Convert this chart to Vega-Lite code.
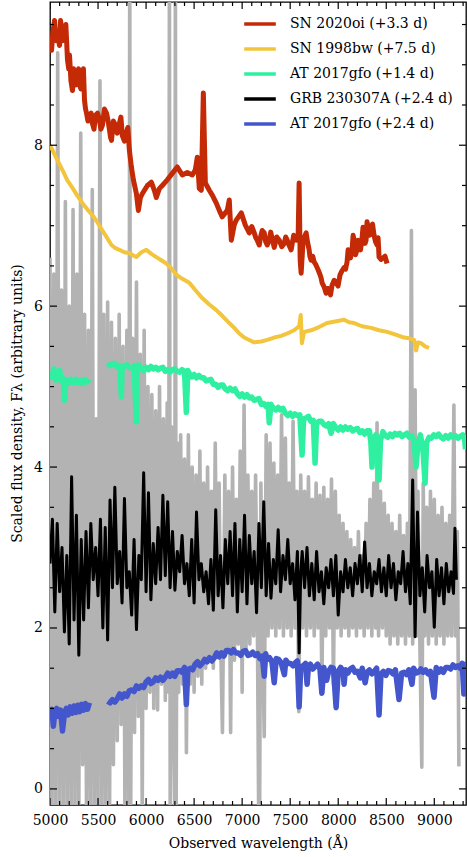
{
"$schema":"https://vega.github.io/schema/vega-lite/v6.json",
"width":416,"height":803,"autosize":{"type":"none"},
"padding":{"left":50,"top":2,"right":1,"bottom":52},
"background":"white",
"config":{"view":{"stroke":"black","strokeWidth":1.3},
 "line":{"strokeJoin":"round","strokeCap":"butt"},
 "tick":{"color":"black","thickness":1.2,"opacity":1},
 "axis":{"domain":false,"ticks":false,"grid":false,"labelFont":"DejaVu Serif","labelFontSize":14,"labelColor":"black","titleFont":"DejaVu Serif","titleFontSize":14,"titleFontWeight":"normal","titleColor":"black","format":"d"}},
"datasets":{
"xmaj":[{"v":5000},{"v":5500},{"v":6000},{"v":6500},{"v":7000},{"v":7500},{"v":8000},{"v":8500},{"v":9000}],
"xmin":[{"v":5100},{"v":5200},{"v":5300},{"v":5400},{"v":5600},{"v":5700},{"v":5800},{"v":5900},{"v":6100},{"v":6200},{"v":6300},{"v":6400},{"v":6600},{"v":6700},{"v":6800},{"v":6900},{"v":7100},{"v":7200},{"v":7300},{"v":7400},{"v":7600},{"v":7700},{"v":7800},{"v":7900},{"v":8100},{"v":8200},{"v":8300},{"v":8400},{"v":8600},{"v":8700},{"v":8800},{"v":8900},{"v":9100},{"v":9200},{"v":9300}],
"ymaj":[{"v":0},{"v":2},{"v":4},{"v":6},{"v":8}],
"ymin":[{"v":0.5},{"v":1},{"v":1.5},{"v":2.5},{"v":3},{"v":3.5},{"v":4.5},{"v":5},{"v":5.5},{"v":6.5},{"v":7},{"v":7.5},{"v":8.5},{"v":9},{"v":9.5}],
"gray":[{"x":5000,"y":6.6},{"x":5020,"y":-0.3},{"x":5040,"y":6.4},{"x":5060,"y":-0.3},{"x":5080,"y":9.15},{"x":5100,"y":-0.3},{"x":5120,"y":6.2},{"x":5140,"y":-0.3},{"x":5160,"y":7.3},{"x":5180,"y":-0.3},{"x":5200,"y":6.0},{"x":5220,"y":-0.3},{"x":5240,"y":7.2},{"x":5260,"y":-0.3},{"x":5280,"y":6.4},{"x":5300,"y":-0.3},{"x":5320,"y":8.15},{"x":5340,"y":0.3},{"x":5360,"y":5.9},{"x":5380,"y":-0.3},{"x":5400,"y":5.7},{"x":5420,"y":-0.3},{"x":5440,"y":7.45},{"x":5460,"y":-0.3},{"x":5480,"y":4.6},{"x":5500,"y":-0.3},{"x":5520,"y":8.8},{"x":5540,"y":-0.3},{"x":5560,"y":5.9},{"x":5580,"y":-0.3},{"x":5600,"y":6.05},{"x":5620,"y":-0.3},{"x":5640,"y":5.8},{"x":5660,"y":0.3},{"x":5680,"y":5.6},{"x":5700,"y":0.6},{"x":5720,"y":5.9},{"x":5740,"y":0.8},{"x":5760,"y":5.5},{"x":5780,"y":-0.3},{"x":5800,"y":5.7},{"x":5820,"y":-0.3},{"x":5830,"y":10.5},{"x":5840,"y":-0.3},{"x":5860,"y":5.6},{"x":5880,"y":0.7},{"x":5900,"y":6.3},{"x":5920,"y":0.9},{"x":5940,"y":5.4},{"x":5960,"y":-0.3},{"x":5980,"y":5.7},{"x":6000,"y":1.0},{"x":6020,"y":5.0},{"x":6040,"y":1.2},{"x":6060,"y":4.9},{"x":6080,"y":1.0},{"x":6100,"y":4.7},{"x":6120,"y":0.98},{"x":6140,"y":5.0},{"x":6160,"y":1.3},{"x":6180,"y":4.6},{"x":6200,"y":1.1},{"x":6220,"y":4.8},{"x":6235,"y":1.2},{"x":6243,"y":10.5},{"x":6251,"y":-0.3},{"x":6265,"y":4.5},{"x":6280,"y":1.3},{"x":6298,"y":-0.3},{"x":6305,"y":10.5},{"x":6313,"y":-0.3},{"x":6325,"y":4.3},{"x":6340,"y":1.2},{"x":6360,"y":4.4},{"x":6380,"y":1.3},{"x":6400,"y":4.1},{"x":6420,"y":0.45},{"x":6440,"y":4.4},{"x":6460,"y":1.3},{"x":6480,"y":4.0},{"x":6500,"y":1.2},{"x":6520,"y":3.9},{"x":6540,"y":1.4},{"x":6560,"y":4.2},{"x":6580,"y":1.3},{"x":6600,"y":3.8},{"x":6620,"y":1.5},{"x":6640,"y":4.0},{"x":6660,"y":1.6},{"x":6680,"y":3.7},{"x":6700,"y":1.5},{"x":6720,"y":4.3},{"x":6740,"y":1.7},{"x":6760,"y":3.8},{"x":6780,"y":1.6},{"x":6795,"y":0.7},{"x":6820,"y":3.9},{"x":6840,"y":1.7},{"x":6860,"y":3.7},{"x":6880,"y":0.7},{"x":6900,"y":4.0},{"x":6920,"y":1.6},{"x":6940,"y":3.6},{"x":6960,"y":1.8},{"x":6980,"y":4.2},{"x":7000,"y":1.2},{"x":7020,"y":4.77},{"x":7040,"y":1.7},{"x":7060,"y":3.9},{"x":7080,"y":1.8},{"x":7100,"y":3.7},{"x":7120,"y":1.9},{"x":7140,"y":3.9},{"x":7160,"y":1.8},{"x":7172,"y":-0.3},{"x":7182,"y":-0.3},{"x":7195,"y":3.8},{"x":7210,"y":2.0},{"x":7230,"y":0.65},{"x":7250,"y":4.4},{"x":7270,"y":1.9},{"x":7290,"y":4.3},{"x":7310,"y":2.0},{"x":7330,"y":4.05},{"x":7350,"y":1.9},{"x":7370,"y":3.9},{"x":7390,"y":2.0},{"x":7410,"y":4.65},{"x":7430,"y":1.9},{"x":7450,"y":4.36},{"x":7470,"y":2.0},{"x":7490,"y":3.8},{"x":7510,"y":1.9},{"x":7530,"y":4.57},{"x":7550,"y":2.0},{"x":7570,"y":3.7},{"x":7590,"y":0.96},{"x":7610,"y":3.9},{"x":7630,"y":2.0},{"x":7650,"y":3.7},{"x":7670,"y":1.9},{"x":7690,"y":3.88},{"x":7710,"y":2.0},{"x":7730,"y":3.6},{"x":7750,"y":1.9},{"x":7770,"y":3.8},{"x":7790,"y":2.0},{"x":7810,"y":3.65},{"x":7830,"y":1.23},{"x":7850,"y":3.75},{"x":7870,"y":1.9},{"x":7890,"y":3.6},{"x":7910,"y":2.0},{"x":7930,"y":3.85},{"x":7950,"y":1.3},{"x":7970,"y":3.7},{"x":7990,"y":2.0},{"x":8010,"y":3.4},{"x":8030,"y":1.9},{"x":8050,"y":3.3},{"x":8070,"y":2.0},{"x":8090,"y":3.2},{"x":8110,"y":1.9},{"x":8130,"y":3.1},{"x":8150,"y":2.0},{"x":8170,"y":3.0},{"x":8190,"y":1.9},{"x":8210,"y":3.2},{"x":8230,"y":2.0},{"x":8250,"y":2.9},{"x":8270,"y":1.9},{"x":8290,"y":3.3},{"x":8310,"y":2.0},{"x":8330,"y":3.6},{"x":8350,"y":1.9},{"x":8370,"y":3.8},{"x":8390,"y":2.0},{"x":8404,"y":4.55},{"x":8420,"y":1.9},{"x":8440,"y":3.7},{"x":8460,"y":2.0},{"x":8480,"y":3.55},{"x":8500,"y":1.9},{"x":8520,"y":3.4},{"x":8540,"y":1.8},{"x":8560,"y":3.3},{"x":8580,"y":1.9},{"x":8600,"y":3.2},{"x":8620,"y":1.8},{"x":8640,"y":3.4},{"x":8660,"y":1.9},{"x":8680,"y":3.15},{"x":8700,"y":1.8},{"x":8720,"y":3.3},{"x":8740,"y":1.9},{"x":8762,"y":6.94},{"x":8775,"y":1.8},{"x":8790,"y":3.6},{"x":8800,"y":4.96},{"x":8815,"y":1.9},{"x":8830,"y":3.7},{"x":8850,"y":1.8},{"x":8870,"y":0.27},{"x":8885,"y":3.8},{"x":8900,"y":1.9},{"x":8920,"y":3.5},{"x":8940,"y":1.8},{"x":8960,"y":3.7},{"x":8980,"y":1.9},{"x":9000,"y":3.6},{"x":9020,"y":1.8},{"x":9040,"y":3.4},{"x":9060,"y":1.9},{"x":9080,"y":3.5},{"x":9100,"y":1.8},{"x":9120,"y":3.3},{"x":9140,"y":1.9},{"x":9160,"y":3.4},{"x":9180,"y":1.9},{"x":9204,"y":4.77},{"x":9220,"y":1.9},{"x":9240,"y":3.2},{"x":9256,"y":0.28}],
"red":[{"x":5000,"y":9.25},{"x":5016,"y":9.18},{"x":5030,"y":9.40},{"x":5047,"y":9.55},{"x":5063,"y":9.30},{"x":5078,"y":9.37},{"x":5099,"y":9.24},{"x":5110,"y":9.55},{"x":5120,"y":9.45},{"x":5135,"y":9.30},{"x":5151,"y":9.43},{"x":5165,"y":9.50},{"x":5182,"y":9.06},{"x":5195,"y":8.95},{"x":5203,"y":9.12},{"x":5218,"y":8.80},{"x":5234,"y":8.68},{"x":5245,"y":8.95},{"x":5255,"y":8.81},{"x":5270,"y":8.75},{"x":5286,"y":8.91},{"x":5297,"y":8.95},{"x":5307,"y":8.75},{"x":5322,"y":8.70},{"x":5338,"y":8.84},{"x":5348,"y":8.95},{"x":5359,"y":8.56},{"x":5370,"y":8.45},{"x":5380,"y":8.40},{"x":5395,"y":8.30},{"x":5411,"y":8.34},{"x":5428,"y":8.40},{"x":5442,"y":8.27},{"x":5458,"y":8.20},{"x":5473,"y":8.37},{"x":5495,"y":8.40},{"x":5515,"y":8.31},{"x":5530,"y":8.20},{"x":5546,"y":8.25},{"x":5567,"y":8.45},{"x":5588,"y":8.40},{"x":5605,"y":8.30},{"x":5619,"y":8.19},{"x":5630,"y":8.10},{"x":5640,"y":8.06},{"x":5660,"y":8.30},{"x":5681,"y":8.25},{"x":5700,"y":8.15},{"x":5722,"y":8.27},{"x":5738,"y":8.35},{"x":5753,"y":8.12},{"x":5775,"y":8.05},{"x":5795,"y":8.15},{"x":5810,"y":8.22},{"x":5826,"y":7.94},{"x":5847,"y":7.73},{"x":5868,"y":7.57},{"x":5899,"y":7.40},{"x":5920,"y":7.19},{"x":5941,"y":7.35},{"x":5962,"y":7.40},{"x":6014,"y":7.50},{"x":6055,"y":7.54},{"x":6086,"y":7.44},{"x":6107,"y":7.35},{"x":6138,"y":7.46},{"x":6169,"y":7.50},{"x":6221,"y":7.57},{"x":6273,"y":7.65},{"x":6325,"y":7.73},{"x":6377,"y":7.63},{"x":6429,"y":7.66},{"x":6481,"y":7.63},{"x":6512,"y":7.69},{"x":6533,"y":7.85},{"x":6554,"y":7.46},{"x":6575,"y":7.44},{"x":6596,"y":8.65},{"x":6617,"y":7.53},{"x":6658,"y":7.44},{"x":6689,"y":7.38},{"x":6731,"y":7.28},{"x":6762,"y":7.19},{"x":6793,"y":7.11},{"x":6845,"y":7.19},{"x":6866,"y":7.32},{"x":6887,"y":6.82},{"x":6918,"y":7.01},{"x":6939,"y":7.07},{"x":6991,"y":7.16},{"x":7032,"y":7.01},{"x":7074,"y":6.91},{"x":7100,"y":6.99},{"x":7126,"y":6.91},{"x":7142,"y":6.85},{"x":7157,"y":6.82},{"x":7178,"y":6.76},{"x":7195,"y":6.88},{"x":7209,"y":6.94},{"x":7230,"y":6.91},{"x":7245,"y":6.80},{"x":7261,"y":6.76},{"x":7282,"y":6.82},{"x":7297,"y":6.92},{"x":7313,"y":6.84},{"x":7334,"y":6.73},{"x":7360,"y":6.86},{"x":7386,"y":6.82},{"x":7412,"y":6.74},{"x":7438,"y":6.78},{"x":7453,"y":6.86},{"x":7469,"y":6.82},{"x":7490,"y":6.75},{"x":7510,"y":6.70},{"x":7536,"y":6.88},{"x":7562,"y":6.82},{"x":7583,"y":6.88},{"x":7593,"y":7.53},{"x":7604,"y":6.57},{"x":7614,"y":6.41},{"x":7635,"y":6.82},{"x":7666,"y":6.91},{"x":7680,"y":6.80},{"x":7697,"y":6.70},{"x":7705,"y":6.62},{"x":7718,"y":6.57},{"x":7735,"y":6.62},{"x":7749,"y":6.55},{"x":7765,"y":6.52},{"x":7780,"y":6.48},{"x":7795,"y":6.44},{"x":7811,"y":6.39},{"x":7822,"y":6.35},{"x":7832,"y":6.29},{"x":7853,"y":6.24},{"x":7874,"y":6.16},{"x":7890,"y":6.22},{"x":7905,"y":6.20},{"x":7920,"y":6.14},{"x":7936,"y":6.26},{"x":7957,"y":6.32},{"x":7978,"y":6.29},{"x":7998,"y":6.25},{"x":8019,"y":6.39},{"x":8040,"y":6.44},{"x":8061,"y":6.48},{"x":8077,"y":6.46},{"x":8092,"y":6.55},{"x":8103,"y":6.70},{"x":8113,"y":6.63},{"x":8128,"y":6.60},{"x":8144,"y":6.70},{"x":8155,"y":6.88},{"x":8165,"y":6.82},{"x":8180,"y":6.64},{"x":8196,"y":6.70},{"x":8206,"y":6.82},{"x":8217,"y":6.76},{"x":8232,"y":6.70},{"x":8248,"y":6.84},{"x":8258,"y":6.98},{"x":8269,"y":6.91},{"x":8280,"y":6.78},{"x":8290,"y":6.82},{"x":8300,"y":7.05},{"x":8311,"y":6.97},{"x":8326,"y":6.88},{"x":8342,"y":6.98},{"x":8357,"y":7.02},{"x":8373,"y":6.88},{"x":8388,"y":6.80},{"x":8404,"y":6.76},{"x":8415,"y":6.85},{"x":8425,"y":6.61},{"x":8445,"y":6.58},{"x":8466,"y":6.60},{"x":8487,"y":6.62},{"x":8508,"y":6.53}],
"yellow":[{"x":5000,"y":8.00},{"x":5026,"y":7.94},{"x":5078,"y":7.81},{"x":5130,"y":7.69},{"x":5182,"y":7.56},{"x":5234,"y":7.47},{"x":5286,"y":7.37},{"x":5338,"y":7.28},{"x":5390,"y":7.20},{"x":5442,"y":7.13},{"x":5494,"y":7.04},{"x":5546,"y":6.94},{"x":5598,"y":6.84},{"x":5640,"y":6.76},{"x":5681,"y":6.72},{"x":5722,"y":6.70},{"x":5774,"y":6.67},{"x":5826,"y":6.66},{"x":5868,"y":6.63},{"x":5899,"y":6.61},{"x":5951,"y":6.67},{"x":6003,"y":6.70},{"x":6055,"y":6.65},{"x":6107,"y":6.61},{"x":6159,"y":6.57},{"x":6211,"y":6.53},{"x":6263,"y":6.47},{"x":6315,"y":6.39},{"x":6377,"y":6.34},{"x":6450,"y":6.29},{"x":6512,"y":6.20},{"x":6585,"y":6.10},{"x":6658,"y":6.02},{"x":6731,"y":5.95},{"x":6793,"y":5.88},{"x":6866,"y":5.79},{"x":6918,"y":5.73},{"x":6970,"y":5.66},{"x":7022,"y":5.61},{"x":7074,"y":5.58},{"x":7126,"y":5.55},{"x":7199,"y":5.56},{"x":7261,"y":5.58},{"x":7334,"y":5.61},{"x":7407,"y":5.63},{"x":7469,"y":5.66},{"x":7541,"y":5.70},{"x":7593,"y":5.75},{"x":7610,"y":5.89},{"x":7622,"y":5.54},{"x":7645,"y":5.68},{"x":7718,"y":5.70},{"x":7801,"y":5.74},{"x":7884,"y":5.79},{"x":7967,"y":5.81},{"x":8061,"y":5.83},{"x":8113,"y":5.80},{"x":8165,"y":5.79},{"x":8248,"y":5.75},{"x":8342,"y":5.73},{"x":8425,"y":5.70},{"x":8508,"y":5.68},{"x":8591,"y":5.65},{"x":8685,"y":5.61},{"x":8737,"y":5.60},{"x":8789,"y":5.58},{"x":8810,"y":5.45},{"x":8831,"y":5.55},{"x":8862,"y":5.54},{"x":8904,"y":5.50},{"x":8945,"y":5.48}],
"green1":[{"x":5000,"y":5.17},{"x":5020,"y":5.12},{"x":5040,"y":5.22},{"x":5060,"y":5.08},{"x":5080,"y":5.12},{"x":5100,"y":5.20},{"x":5120,"y":5.06},{"x":5140,"y":5.10},{"x":5151,"y":4.83},{"x":5165,"y":5.08},{"x":5190,"y":5.04},{"x":5215,"y":5.09},{"x":5240,"y":5.05},{"x":5265,"y":5.09},{"x":5290,"y":5.05},{"x":5315,"y":5.08},{"x":5340,"y":5.04},{"x":5365,"y":5.09},{"x":5390,"y":5.06},{"x":5410,"y":5.09}],
"green2":[{"x":5600,"y":5.29},{"x":5625,"y":5.26},{"x":5650,"y":5.28},{"x":5675,"y":5.29},{"x":5700,"y":5.24},{"x":5725,"y":5.26},{"x":5743,"y":4.87},{"x":5750,"y":5.23},{"x":5775,"y":5.26},{"x":5800,"y":5.27},{"x":5825,"y":5.24},{"x":5850,"y":5.23},{"x":5875,"y":5.26},{"x":5899,"y":4.56},{"x":5910,"y":5.24},{"x":5925,"y":5.27},{"x":5950,"y":5.23},{"x":5975,"y":5.20},{"x":6000,"y":5.24},{"x":6025,"y":5.21},{"x":6050,"y":5.25},{"x":6075,"y":5.22},{"x":6100,"y":5.24},{"x":6125,"y":5.21},{"x":6150,"y":5.23},{"x":6175,"y":5.24},{"x":6200,"y":5.19},{"x":6225,"y":5.21},{"x":6250,"y":5.18},{"x":6275,"y":5.21},{"x":6300,"y":5.22},{"x":6325,"y":5.19},{"x":6350,"y":5.18},{"x":6375,"y":5.21},{"x":6400,"y":5.19},{"x":6419,"y":4.68},{"x":6435,"y":5.20},{"x":6450,"y":5.16},{"x":6475,"y":5.12},{"x":6500,"y":5.15},{"x":6525,"y":5.11},{"x":6550,"y":5.14},{"x":6575,"y":5.11},{"x":6600,"y":5.11},{"x":6625,"y":5.07},{"x":6650,"y":5.08},{"x":6675,"y":5.09},{"x":6700,"y":5.03},{"x":6725,"y":5.03},{"x":6750,"y":4.99},{"x":6775,"y":5.02},{"x":6800,"y":5.02},{"x":6825,"y":4.97},{"x":6850,"y":4.95},{"x":6875,"y":4.98},{"x":6900,"y":4.95},{"x":6925,"y":4.97},{"x":6950,"y":4.91},{"x":6975,"y":4.88},{"x":7000,"y":4.91},{"x":7025,"y":4.87},{"x":7050,"y":4.90},{"x":7075,"y":4.86},{"x":7100,"y":4.87},{"x":7125,"y":4.83},{"x":7150,"y":4.84},{"x":7175,"y":4.85},{"x":7200,"y":4.78},{"x":7225,"y":4.79},{"x":7250,"y":4.75},{"x":7270,"y":4.78},{"x":7282,"y":4.55},{"x":7300,"y":4.78},{"x":7325,"y":4.73},{"x":7350,"y":4.71},{"x":7375,"y":4.74},{"x":7400,"y":4.71},{"x":7425,"y":4.73},{"x":7450,"y":4.67},{"x":7475,"y":4.64},{"x":7500,"y":4.67},{"x":7525,"y":4.63},{"x":7550,"y":4.66},{"x":7575,"y":4.64},{"x":7600,"y":4.65},{"x":7624,"y":4.15},{"x":7640,"y":4.60},{"x":7665,"y":4.61},{"x":7690,"y":4.63},{"x":7715,"y":4.57},{"x":7740,"y":4.58},{"x":7759,"y":4.05},{"x":7775,"y":4.54},{"x":7800,"y":4.57},{"x":7825,"y":4.57},{"x":7850,"y":4.53},{"x":7875,"y":4.51},{"x":7900,"y":4.54},{"x":7926,"y":4.42},{"x":7950,"y":4.54},{"x":7975,"y":4.49},{"x":8000,"y":4.46},{"x":8025,"y":4.50},{"x":8050,"y":4.46},{"x":8075,"y":4.50},{"x":8100,"y":4.47},{"x":8125,"y":4.49},{"x":8150,"y":4.45},{"x":8175,"y":4.47},{"x":8200,"y":4.48},{"x":8225,"y":4.43},{"x":8250,"y":4.45},{"x":8275,"y":4.41},{"x":8300,"y":4.45},{"x":8325,"y":4.45},{"x":8340,"y":4.30},{"x":8352,"y":4.00},{"x":8365,"y":4.32},{"x":8390,"y":4.40},{"x":8410,"y":4.28},{"x":8425,"y":3.84},{"x":8440,"y":4.33},{"x":8465,"y":4.44},{"x":8490,"y":4.39},{"x":8515,"y":4.37},{"x":8540,"y":4.41},{"x":8565,"y":4.38},{"x":8590,"y":4.42},{"x":8615,"y":4.40},{"x":8640,"y":4.42},{"x":8665,"y":4.38},{"x":8690,"y":4.40},{"x":8715,"y":4.42},{"x":8740,"y":4.37},{"x":8765,"y":4.39},{"x":8790,"y":4.32},{"x":8810,"y":4.00},{"x":8830,"y":4.28},{"x":8855,"y":4.40},{"x":8880,"y":4.25},{"x":8904,"y":3.80},{"x":8920,"y":4.30},{"x":8945,"y":4.37},{"x":8970,"y":4.36},{"x":8995,"y":4.40},{"x":9020,"y":4.38},{"x":9045,"y":4.41},{"x":9070,"y":4.37},{"x":9095,"y":4.35},{"x":9120,"y":4.39},{"x":9145,"y":4.36},{"x":9170,"y":4.40},{"x":9195,"y":4.37},{"x":9220,"y":4.39},{"x":9245,"y":4.36},{"x":9270,"y":4.38},{"x":9295,"y":4.40},{"x":9315,"y":4.35},{"x":9325,"y":4.22}],
"black":[{"x":5000,"y":2.80},{"x":5025,"y":3.35},{"x":5050,"y":2.20},{"x":5075,"y":3.30},{"x":5100,"y":2.45},{"x":5125,"y":3.00},{"x":5150,"y":1.95},{"x":5175,"y":2.90},{"x":5200,"y":1.80},{"x":5225,"y":3.88},{"x":5250,"y":2.10},{"x":5275,"y":3.40},{"x":5300,"y":1.66},{"x":5325,"y":3.10},{"x":5350,"y":2.10},{"x":5375,"y":3.20},{"x":5400,"y":2.25},{"x":5425,"y":3.30},{"x":5450,"y":2.60},{"x":5475,"y":3.00},{"x":5500,"y":2.40},{"x":5525,"y":3.35},{"x":5550,"y":2.00},{"x":5575,"y":3.25},{"x":5600,"y":1.85},{"x":5625,"y":3.59},{"x":5650,"y":2.50},{"x":5675,"y":3.75},{"x":5700,"y":2.55},{"x":5725,"y":2.95},{"x":5750,"y":2.31},{"x":5775,"y":3.61},{"x":5800,"y":2.50},{"x":5825,"y":2.70},{"x":5850,"y":2.16},{"x":5875,"y":3.10},{"x":5900,"y":1.98},{"x":5925,"y":2.90},{"x":5950,"y":2.60},{"x":5975,"y":3.93},{"x":6000,"y":2.45},{"x":6025,"y":3.68},{"x":6050,"y":2.35},{"x":6075,"y":3.05},{"x":6100,"y":2.55},{"x":6125,"y":3.25},{"x":6150,"y":2.60},{"x":6175,"y":3.65},{"x":6200,"y":2.65},{"x":6225,"y":3.57},{"x":6250,"y":2.50},{"x":6275,"y":3.20},{"x":6300,"y":2.47},{"x":6325,"y":2.95},{"x":6350,"y":2.70},{"x":6375,"y":3.15},{"x":6400,"y":2.55},{"x":6425,"y":2.80},{"x":6450,"y":2.40},{"x":6475,"y":3.10},{"x":6500,"y":2.31},{"x":6525,"y":3.44},{"x":6550,"y":2.60},{"x":6575,"y":2.80},{"x":6600,"y":2.45},{"x":6625,"y":2.70},{"x":6650,"y":2.30},{"x":6675,"y":2.85},{"x":6700,"y":2.22},{"x":6725,"y":3.47},{"x":6750,"y":2.40},{"x":6775,"y":2.90},{"x":6800,"y":2.25},{"x":6825,"y":3.10},{"x":6850,"y":2.55},{"x":6875,"y":3.20},{"x":6900,"y":2.40},{"x":6925,"y":3.30},{"x":6950,"y":2.20},{"x":6975,"y":3.10},{"x":7000,"y":2.45},{"x":7025,"y":3.40},{"x":7050,"y":2.30},{"x":7075,"y":3.15},{"x":7100,"y":2.55},{"x":7125,"y":2.95},{"x":7150,"y":2.19},{"x":7175,"y":3.30},{"x":7200,"y":2.50},{"x":7225,"y":3.57},{"x":7250,"y":2.40},{"x":7275,"y":3.05},{"x":7300,"y":2.37},{"x":7325,"y":2.85},{"x":7350,"y":2.55},{"x":7375,"y":3.22},{"x":7400,"y":2.45},{"x":7425,"y":2.90},{"x":7450,"y":2.60},{"x":7475,"y":3.10},{"x":7500,"y":2.55},{"x":7525,"y":2.80},{"x":7550,"y":2.35},{"x":7575,"y":2.95},{"x":7593,"y":1.69},{"x":7610,"y":2.70},{"x":7625,"y":2.95},{"x":7650,"y":2.50},{"x":7675,"y":3.00},{"x":7700,"y":2.40},{"x":7725,"y":2.80},{"x":7750,"y":2.35},{"x":7775,"y":2.95},{"x":7800,"y":2.45},{"x":7825,"y":2.70},{"x":7850,"y":2.30},{"x":7875,"y":2.75},{"x":7900,"y":2.50},{"x":7925,"y":2.85},{"x":7950,"y":2.40},{"x":7975,"y":2.90},{"x":8000,"y":2.16},{"x":8025,"y":2.70},{"x":8050,"y":2.45},{"x":8075,"y":2.85},{"x":8100,"y":2.50},{"x":8125,"y":2.75},{"x":8150,"y":2.40},{"x":8175,"y":2.80},{"x":8200,"y":2.55},{"x":8225,"y":2.90},{"x":8250,"y":2.45},{"x":8275,"y":3.07},{"x":8300,"y":2.50},{"x":8325,"y":2.80},{"x":8350,"y":2.40},{"x":8375,"y":2.70},{"x":8400,"y":2.55},{"x":8425,"y":2.85},{"x":8450,"y":2.45},{"x":8475,"y":2.75},{"x":8500,"y":2.40},{"x":8525,"y":2.90},{"x":8550,"y":2.50},{"x":8575,"y":2.80},{"x":8600,"y":2.35},{"x":8625,"y":2.70},{"x":8650,"y":2.55},{"x":8675,"y":2.95},{"x":8700,"y":2.45},{"x":8725,"y":2.80},{"x":8750,"y":2.30},{"x":8775,"y":3.84},{"x":8800,"y":1.89},{"x":8825,"y":3.44},{"x":8850,"y":2.40},{"x":8875,"y":2.75},{"x":8900,"y":2.20},{"x":8925,"y":2.90},{"x":8950,"y":2.50},{"x":8975,"y":2.70},{"x":9000,"y":2.01},{"x":9025,"y":2.85},{"x":9050,"y":2.40},{"x":9075,"y":2.75},{"x":9100,"y":2.30},{"x":9125,"y":2.80},{"x":9150,"y":2.45},{"x":9175,"y":2.70},{"x":9200,"y":2.43},{"x":9215,"y":3.24},{"x":9230,"y":2.60}],
"blue1":[{"x":5000,"y":0.93},{"x":5020,"y":0.99},{"x":5035,"y":0.78},{"x":5050,"y":0.95},{"x":5070,"y":1.00},{"x":5090,"y":0.90},{"x":5110,"y":0.98},{"x":5130,"y":0.72},{"x":5150,"y":0.93},{"x":5170,"y":1.00},{"x":5190,"y":0.92},{"x":5210,"y":1.02},{"x":5230,"y":0.94},{"x":5250,"y":1.03},{"x":5270,"y":0.95},{"x":5290,"y":1.04},{"x":5310,"y":0.96},{"x":5330,"y":1.05},{"x":5350,"y":0.98},{"x":5370,"y":1.06},{"x":5390,"y":0.99},{"x":5410,"y":1.07}],
"blue2":[{"x":5600,"y":1.09},{"x":5625,"y":1.07},{"x":5650,"y":1.11},{"x":5675,"y":1.08},{"x":5700,"y":1.12},{"x":5725,"y":1.18},{"x":5750,"y":1.13},{"x":5775,"y":1.18},{"x":5800,"y":1.15},{"x":5825,"y":1.22},{"x":5850,"y":1.23},{"x":5875,"y":1.21},{"x":5900,"y":1.28},{"x":5925,"y":1.25},{"x":5950,"y":1.28},{"x":5975,"y":1.26},{"x":6000,"y":1.33},{"x":6025,"y":1.36},{"x":6050,"y":1.31},{"x":6075,"y":1.33},{"x":6100,"y":1.38},{"x":6125,"y":1.35},{"x":6150,"y":1.39},{"x":6175,"y":1.35},{"x":6200,"y":1.39},{"x":6225,"y":1.44},{"x":6250,"y":1.40},{"x":6275,"y":1.44},{"x":6300,"y":1.40},{"x":6325,"y":1.47},{"x":6350,"y":1.47},{"x":6375,"y":1.45},{"x":6400,"y":1.51},{"x":6419,"y":1.05},{"x":6435,"y":1.48},{"x":6460,"y":1.50},{"x":6485,"y":1.48},{"x":6510,"y":1.55},{"x":6535,"y":1.58},{"x":6560,"y":1.53},{"x":6585,"y":1.56},{"x":6610,"y":1.61},{"x":6635,"y":1.58},{"x":6660,"y":1.63},{"x":6685,"y":1.59},{"x":6710,"y":1.63},{"x":6735,"y":1.69},{"x":6760,"y":1.64},{"x":6785,"y":1.69},{"x":6810,"y":1.65},{"x":6835,"y":1.72},{"x":6860,"y":1.72},{"x":6885,"y":1.69},{"x":6910,"y":1.73},{"x":6935,"y":1.69},{"x":6960,"y":1.69},{"x":6985,"y":1.66},{"x":7010,"y":1.71},{"x":7035,"y":1.72},{"x":7060,"y":1.66},{"x":7085,"y":1.67},{"x":7110,"y":1.70},{"x":7135,"y":1.66},{"x":7160,"y":1.68},{"x":7185,"y":1.62},{"x":7210,"y":1.65},{"x":7230,"y":1.40},{"x":7245,"y":1.68},{"x":7260,"y":1.61},{"x":7285,"y":1.63},{"x":7310,"y":1.58},{"x":7334,"y":1.32},{"x":7355,"y":1.62},{"x":7380,"y":1.61},{"x":7405,"y":1.57},{"x":7440,"y":1.42},{"x":7455,"y":1.60},{"x":7480,"y":1.56},{"x":7505,"y":1.56},{"x":7530,"y":1.53},{"x":7555,"y":1.57},{"x":7575,"y":1.59},{"x":7593,"y":1.02},{"x":7610,"y":1.52},{"x":7635,"y":1.53},{"x":7660,"y":1.56},{"x":7676,"y":1.30},{"x":7690,"y":1.52},{"x":7710,"y":1.55},{"x":7735,"y":1.49},{"x":7760,"y":1.52},{"x":7785,"y":1.55},{"x":7810,"y":1.49},{"x":7830,"y":1.19},{"x":7850,"y":1.51},{"x":7880,"y":1.35},{"x":7900,"y":1.46},{"x":7925,"y":1.51},{"x":7950,"y":1.50},{"x":7978,"y":1.01},{"x":8000,"y":1.46},{"x":8025,"y":1.51},{"x":8050,"y":1.47},{"x":8061,"y":1.30},{"x":8075,"y":1.48},{"x":8100,"y":1.44},{"x":8125,"y":1.49},{"x":8150,"y":1.51},{"x":8175,"y":1.45},{"x":8200,"y":1.46},{"x":8230,"y":1.38},{"x":8250,"y":1.50},{"x":8280,"y":1.32},{"x":8300,"y":1.45},{"x":8325,"y":1.48},{"x":8350,"y":1.43},{"x":8375,"y":1.46},{"x":8400,"y":1.50},{"x":8425,"y":0.92},{"x":8445,"y":1.43},{"x":8470,"y":1.46},{"x":8495,"y":1.41},{"x":8520,"y":1.47},{"x":8545,"y":1.46},{"x":8570,"y":1.43},{"x":8595,"y":1.48},{"x":8633,"y":1.11},{"x":8660,"y":1.44},{"x":8685,"y":1.45},{"x":8710,"y":1.42},{"x":8735,"y":1.48},{"x":8768,"y":1.30},{"x":8785,"y":1.50},{"x":8810,"y":1.44},{"x":8835,"y":1.45},{"x":8860,"y":1.49},{"x":8885,"y":1.45},{"x":8910,"y":1.48},{"x":8935,"y":1.43},{"x":8960,"y":1.46},{"x":8997,"y":1.14},{"x":9020,"y":1.51},{"x":9045,"y":1.45},{"x":9070,"y":1.49},{"x":9095,"y":1.45},{"x":9120,"y":1.51},{"x":9145,"y":1.51},{"x":9170,"y":1.49},{"x":9195,"y":1.54},{"x":9220,"y":1.51},{"x":9245,"y":1.53},{"x":9270,"y":1.50},{"x":9290,"y":1.56},{"x":9308,"y":1.18},{"x":9325,"y":1.58}]
},
"layer":[
{"data":{"name":"gray"},"mark":{"type":"line","color":"#b3b3b3","strokeWidth":3.6,"clip":true},
 "encoding":{
  "x":{"field":"x","type":"quantitative","scale":{"domain":[5000,9330],"nice":false,"zero":false},
   "axis":{"orient":"bottom","values":[5000,5500,6000,6500,7000,7500,8000,8500,9000],"labelPadding":8,"title":"Observed wavelength (Å)","titleX":208,"titleY":38,"titleBaseline":"middle","labelFlush":false}},
  "y":{"field":"y","type":"quantitative","scale":{"domain":[-0.2,9.78],"nice":false,"zero":false},
   "axis":{"orient":"left","values":[0,2,4,6,8],"labelPadding":7.5,"title":"Scaled flux density, Fλ (arbitrary units)","titleX":-32.5,"titleY":401,"titleBaseline":"middle","labelFlush":false}}}},
{"data":{"name":"red"},"mark":{"type":"line","strokeWidth":5,"clip":true},
 "encoding":{
  "x":{"field":"x","type":"quantitative"},"y":{"field":"y","type":"quantitative"},
  "color":{"datum":"SN 2020oi (+3.3 d)","type":"nominal",
   "scale":{"domain":["SN 2020oi (+3.3 d)","SN 1998bw (+7.5 d)","AT 2017gfo (+1.4 d)","GRB 230307A (+2.4 d)","AT 2017gfo (+2.4 d)"],"range":["#c42a06","#f2c53d","#2ff0a0","#000000","#4456cc"]},
   "legend":{"orient":"none","legendX":192,"legendY":4,"title":null,"symbolType":"stroke","symbolStrokeWidth":3.5,"symbolSize":1000,"labelFont":"DejaVu Serif","labelFontSize":14,"labelColor":"black","labelOffset":12,"labelLimit":400,"rowPadding":-9}}}},
{"data":{"name":"yellow"},"mark":{"type":"line","strokeWidth":4,"clip":true},
 "encoding":{"x":{"field":"x","type":"quantitative"},"y":{"field":"y","type":"quantitative"},"color":{"datum":"SN 1998bw (+7.5 d)","type":"nominal"}}},
{"data":{"name":"green1"},"mark":{"type":"line","strokeWidth":5.5,"clip":true},
 "encoding":{"x":{"field":"x","type":"quantitative"},"y":{"field":"y","type":"quantitative"},"color":{"datum":"AT 2017gfo (+1.4 d)","type":"nominal"}}},
{"data":{"name":"green2"},"mark":{"type":"line","strokeWidth":5.5,"clip":true},
 "encoding":{"x":{"field":"x","type":"quantitative"},"y":{"field":"y","type":"quantitative"},"color":{"datum":"AT 2017gfo (+1.4 d)","type":"nominal"}}},
{"data":{"name":"black"},"mark":{"type":"line","strokeWidth":3,"clip":true},
 "encoding":{"x":{"field":"x","type":"quantitative"},"y":{"field":"y","type":"quantitative"},"color":{"datum":"GRB 230307A (+2.4 d)","type":"nominal"}}},
{"data":{"name":"blue1"},"mark":{"type":"line","strokeWidth":5.5,"clip":true},
 "encoding":{"x":{"field":"x","type":"quantitative"},"y":{"field":"y","type":"quantitative"},"color":{"datum":"AT 2017gfo (+2.4 d)","type":"nominal"}}},
{"data":{"name":"blue2"},"mark":{"type":"line","strokeWidth":5.5,"clip":true},
 "encoding":{"x":{"field":"x","type":"quantitative"},"y":{"field":"y","type":"quantitative"},"color":{"datum":"AT 2017gfo (+2.4 d)","type":"nominal"}}},
{"data":{"name":"xmaj"},"mark":{"type":"tick","orient":"vertical","size":14,"clip":true},
 "encoding":{"x":{"field":"v","type":"quantitative"},"y":{"datum":-0.2,"type":"quantitative"}}},
{"data":{"name":"xmaj"},"mark":{"type":"tick","orient":"vertical","size":14,"clip":true},
 "encoding":{"x":{"field":"v","type":"quantitative"},"y":{"datum":9.78,"type":"quantitative"}}},
{"data":{"name":"xmin"},"mark":{"type":"tick","orient":"vertical","size":8,"clip":true},
 "encoding":{"x":{"field":"v","type":"quantitative"},"y":{"datum":-0.2,"type":"quantitative"}}},
{"data":{"name":"xmin"},"mark":{"type":"tick","orient":"vertical","size":8,"clip":true},
 "encoding":{"x":{"field":"v","type":"quantitative"},"y":{"datum":9.78,"type":"quantitative"}}},
{"data":{"name":"ymaj"},"mark":{"type":"tick","orient":"horizontal","size":14,"clip":true},
 "encoding":{"y":{"field":"v","type":"quantitative"},"x":{"datum":5000,"type":"quantitative"}}},
{"data":{"name":"ymaj"},"mark":{"type":"tick","orient":"horizontal","size":14,"clip":true},
 "encoding":{"y":{"field":"v","type":"quantitative"},"x":{"datum":9330,"type":"quantitative"}}},
{"data":{"name":"ymin"},"mark":{"type":"tick","orient":"horizontal","size":8,"clip":true},
 "encoding":{"y":{"field":"v","type":"quantitative"},"x":{"datum":5000,"type":"quantitative"}}},
{"data":{"name":"ymin"},"mark":{"type":"tick","orient":"horizontal","size":8,"clip":true},
 "encoding":{"y":{"field":"v","type":"quantitative"},"x":{"datum":9330,"type":"quantitative"}}}
]
}
